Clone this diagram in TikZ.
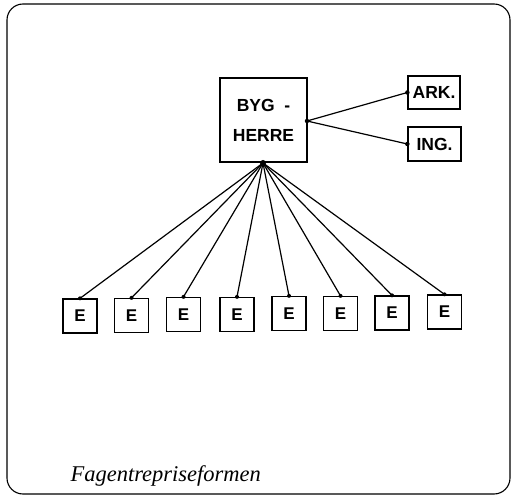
\documentclass[tikz,border=0pt]{standalone}
\usepackage{fontspec}
\setmainfont{Liberation Serif}
\setsansfont{Liberation Sans}
\begin{document}
\begin{tikzpicture}[x=1pt,y=-1pt,
  box/.style={draw,line width=1.3pt,inner sep=0pt,font=\sffamily\bfseries},
  ebox/.style={box,minimum width=34pt,minimum height=34pt,font=\sffamily\bfseries\fontsize{17}{17}\selectfont},
  conn/.style={line width=1.2pt},
  dot/.style={circle,fill,inner sep=0pt,minimum size=4.5pt}]
\useasboundingbox (0,0) rectangle (512,497);
\draw[line width=1.1pt,rounded corners=16pt] (7,4) rectangle (510,494);
\node[box,minimum width=87pt,minimum height=84pt,align=center,font=\sffamily\bfseries\fontsize{17.5}{30}\selectfont] (bh) at (263.5,120) {BYG\ \ -\\HERRE};
\node[box,minimum width=52pt,minimum height=33pt,font=\sffamily\bfseries\fontsize{17.5}{17.5}\selectfont] (ark) at (434,92.5) {ARK.};
\node[box,minimum width=53pt,minimum height=34pt,font=\sffamily\bfseries\fontsize{17.5}{17.5}\selectfont] (ing) at (434.5,144) {ING.};
\coordinate (jr) at (307,121);
\coordinate (jb) at (263,163);
\draw[conn] (jr) -- (ark.west);
\draw[conn] (jr) -- (ing.west);
\node[dot] at (jr) {};
\node[dot] at (ark.west) {};
\node[dot] at (ing.west) {};
\foreach \i/\x/\y in {1/80/316,2/131.5/315.5,3/183.5/314.5,4/237/314.5,5/289/313.5,6/340.5/313.5,7/392/313,8/444.5/312}{
  \node[ebox] (e\i) at (\x,\y) {E};
  \draw[conn] (jb) -- (e\i.north);
  \node[dot,minimum size=4pt] at (e\i.north) {};
}
\node[dot,minimum size=6pt] at (jb) {};
\node[anchor=base west,font=\fontsize{22.5}{22.5}\selectfont\itshape] (cap) at (67,481) {Fagentrepriseformen};
\end{tikzpicture}
\end{document}
